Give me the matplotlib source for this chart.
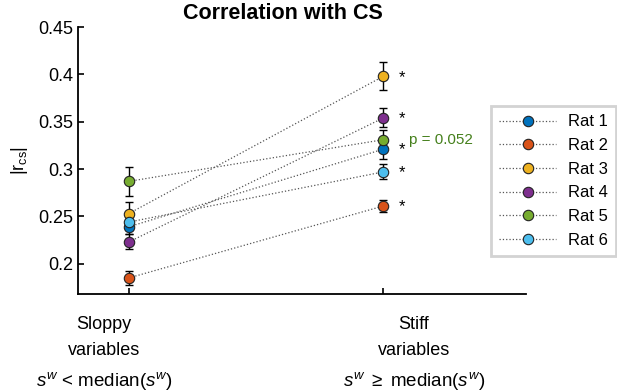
import numpy as np
import matplotlib.pyplot as plt

plt.rcParams['font.family'] = ['Liberation Sans', 'DejaVu Sans']
plt.rcParams['mathtext.fontset'] = 'custom'
plt.rcParams['mathtext.rm'] = 'Liberation Sans'
plt.rcParams['mathtext.it'] = 'Liberation Sans:italic'

# ---- data ----
rats = ['Rat 1', 'Rat 2', 'Rat 3', 'Rat 4', 'Rat 5', 'Rat 6']
colors = ['#0072BD', '#D95319', '#EDB120', '#7E2F8E', '#77AC30', '#4DBEEE']
sloppy = [0.239, 0.185, 0.253, 0.223, 0.287, 0.244]
sloppy_err = [0.008, 0.007, 0.012, 0.008, 0.015, 0.008]
stiff = [0.321, 0.261, 0.398, 0.354, 0.331, 0.297]
stiff_err = [0.010, 0.006, 0.015, 0.010, 0.010, 0.008]
signif = ['*', '*', '*', '*', 'p = 0.052', '*']
yticks = [0.2, 0.25, 0.3, 0.35, 0.4, 0.45]

fig = plt.figure(figsize=(6.17, 3.92), dpi=100)
ax = fig.add_axes([78 / 617, 1 - 294 / 392, 448 / 617, 267 / 392])

x = [1, 2]
for i in range(len(rats)):
    ax.errorbar(x, [sloppy[i], stiff[i]], yerr=[sloppy_err[i], stiff_err[i]],
                fmt='none', ecolor='k', elinewidth=1, capsize=3, zorder=2)
    ax.plot(x, [sloppy[i], stiff[i]], linestyle=':', color='#555555',
            linewidth=0.9, marker='o', markersize=7.5, markerfacecolor=colors[i],
            markeredgecolor='#222222', markeredgewidth=0.8, label=rats[i], zorder=3)

# significance marks
for i in range(len(rats)):
    if signif[i] == '*':
        ax.text(2.06, stiff[i] - 0.001, '*', fontsize=12, va='center', ha='left')
    else:
        ax.text(2.1, stiff[i], signif[i], fontsize=11, color='#45801C',
                va='center', ha='left')

ax.set_xlim(0.8, 2.56)
ax.set_ylim(0.168, 0.45)
ax.set_xticks(x)
ax.set_xticklabels([])
ax.set_yticks(yticks)
ax.set_yticklabels([f'{v:g}' for v in yticks], fontsize=13)
ax.tick_params(direction='in', length=4, width=1.2)
for s in ['top', 'right']:
    ax.spines[s].set_visible(False)
for s in ['left', 'bottom']:
    ax.spines[s].set_linewidth(1.3)

ax.set_title('Correlation with CS', fontsize=15.5, fontweight='bold', x=0.457, pad=5.5)
ax.set_ylabel(r'$|\mathrm{r}_{\mathrm{cs}}|$', fontsize=13, labelpad=6)

# group labels under the axis
tr = ax.get_xaxis_transform()
labels = [(0.902, ['Sloppy', 'variables', r'$s^w$ < median($s^w$)']),
          (2.12, ['Stiff', 'variables', r'$s^w$ $\geq$ median($s^w$)'])]
for xp, lines in labels:
    for j, (yy, txt) in enumerate(zip([-0.116, -0.210, -0.326], lines)):
        ax.text(xp, yy, txt, transform=tr, fontsize=13.5 if j == 2 else 13,
                ha='center', va='center')

leg = ax.legend(loc='upper left', bbox_to_anchor=(491 / 617, 1 - 106 / 392),
                bbox_transform=fig.transFigure, fontsize=12, handlelength=3.4,
                labelspacing=0.52, fancybox=False, borderpad=0.5, handletextpad=0.7,
                borderaxespad=0)
leg.get_frame().set_edgecolor('#c8c8c8')
leg.get_frame().set_linewidth(2)

fig.savefig('out.png', dpi=100)
